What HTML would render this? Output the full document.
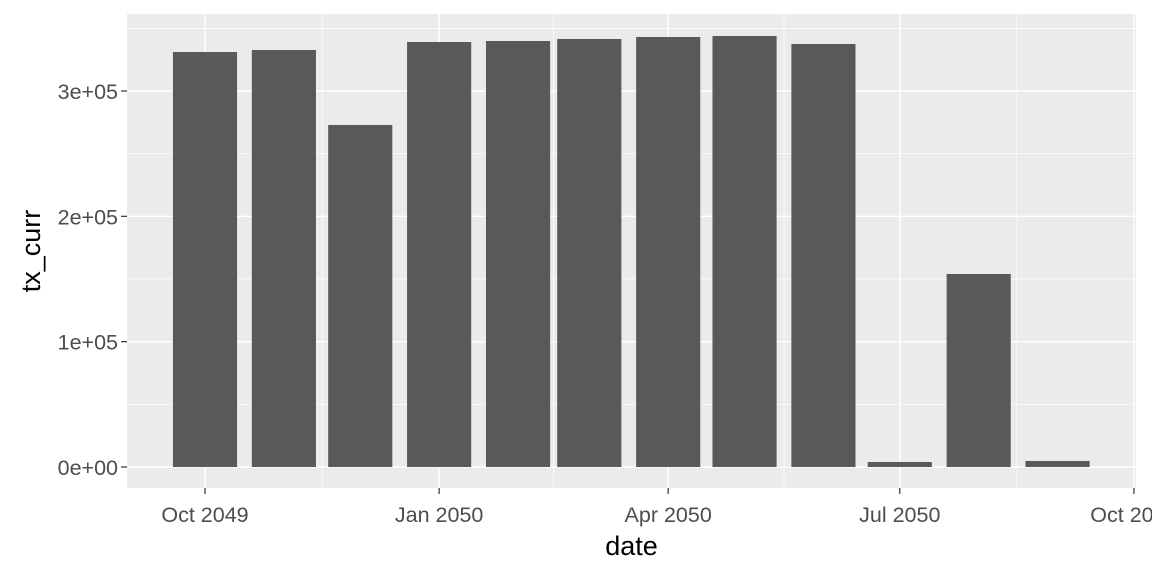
<!DOCTYPE html>
<html><head><meta charset="utf-8"><style>
body{margin:0;background:#fff;}
svg{display:block;font-family:"Liberation Sans",sans-serif;}
</style></head><body>
<svg id="c" width="1152" height="576" xmlns="http://www.w3.org/2000/svg"></svg>
<script>
const months = ["2049-10","2049-11","2049-12","2050-01","2050-02","2050-03","2050-04","2050-05","2050-06","2050-07","2050-08","2050-09"];
const txCurr = [331100,332700,272900,339100,339900,341500,343100,343900,337500,4000,154000,4800];
const yTicks = [0,100000,200000,300000];
const yTickLabels = ["0e+00","1e+05","2e+05","3e+05"];
const xTicks = ["2049-10-01","2050-01-01","2050-04-01","2050-07-01","2050-10-01"];
const xTickLabels = ["Oct 2049","Jan 2050","Apr 2050","Jul 2050","Oct 2050"];

const NS="http://www.w3.org/2000/svg";
const svg=document.getElementById('c');
const L=127,R=1136,T=14,B=488;
const origin=Date.UTC(2049,9,1);
function day(s){const p=s.split('-');return (Date.UTC(+p[0],+p[1]-1,p[2]?+p[2]:1)-origin)/86400000;}
function x(d){return 205+d*2.545;}
function y(v){return 467-v/100000*125.33;}
function el(t,a,txt){const e=document.createElementNS(NS,t);for(const k in a)e.setAttribute(k,a[k]);if(txt!=null)e.textContent=txt;svg.appendChild(e);return e;}

const bg=el('rect',{x:L,y:T,width:R-L,height:B-T,fill:'#ebebeb'});


for(let i=0;i<yTicks.length;i++){
  const v=yTicks[i]+50000;
  const g=el('line',{x1:L,x2:R,y1:y(v),y2:y(v),stroke:'#fff','stroke-width':0.7});
  
  
}
for(let i=0;i<xTicks.length-1;i++){
  const xm=(x(day(xTicks[i]))+x(day(xTicks[i+1])))/2;
  const g=el('line',{x1:xm,x2:xm,y1:T,y2:B,stroke:'#fff','stroke-width':0.7});
  
  
}
yTicks.forEach((v,i)=>{
  const g=el('line',{x1:L,x2:R,y1:y(v),y2:y(v),stroke:'#fff','stroke-width':1.4});
  
  
  const tk=el('line',{x1:L-6,x2:L,y1:y(v),y2:y(v),stroke:'#333','stroke-width':1.2});
  
  
  const t=el('text',{x:L-9,y:y(v)+8,'text-anchor':'end','font-size':21.5,fill:'#4d4d4d'},yTickLabels[i]);
  
  
});
xTicks.forEach((s,i)=>{
  const xx=x(day(s));
  const g=el('line',{x1:xx,x2:xx,y1:T,y2:B,stroke:'#fff','stroke-width':1.4});
  
  
  const tk=el('line',{x1:xx,x2:xx,y1:B,y2:B+6,stroke:'#333','stroke-width':1.2});
  
  
  const t=el('text',{x:xx,y:522,'text-anchor':'middle','font-size':21.5,fill:'#4d4d4d'},xTickLabels[i]);
  
  
});
const halfW=12.6*2.545;
months.forEach((m,i)=>{
  const cx=x(day(m));
  const b=el('rect',{x:cx-halfW,y:y(txCurr[i]),width:2*halfW,height:y(0)-y(txCurr[i]),fill:'#595959'});
  
  
});
const xt=el('text',{x:(L+R)/2,y:555,'text-anchor':'middle','font-size':27,fill:'#000'},'date');


const yt=el('text',{x:0,y:0,'text-anchor':'middle','font-size':27,fill:'#000',transform:'translate(40,251) rotate(-90)'},'tx_curr');


</script>
</body></html>
